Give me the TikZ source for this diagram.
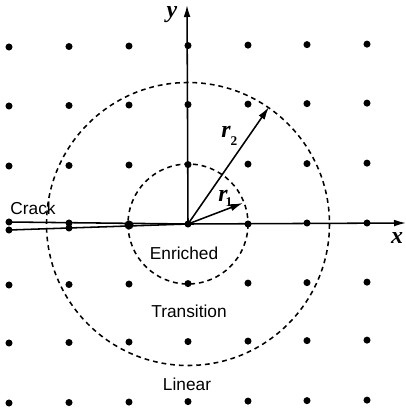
\documentclass[tikz,border=0pt]{standalone}
\usepackage{fontspec}
\setmainfont{Liberation Sans}
\newfontfamily\lettres{Liberation Serif}
\usetikzlibrary{arrows.meta}
\begin{document}
\begin{tikzpicture}[
  x=0.025cm, y=-0.025cm,
  font=\fontsize{12.3}{14}\selectfont,
  point/.style={circle, fill=black, inner sep=0pt, minimum size=5pt},
  zone/.style={black, line width=1.1pt, dash pattern=on 3.4pt off 2.8pt},
  axe/.style={-{Latex[length=3mm, width=1.7mm]}, line width=1.1pt},
  rayon/.style={-{Latex[length=3.2mm, width=1.8mm]}, line width=1.1pt},
  fissure/.style={line width=1.1pt},
  lettre/.style={inner sep=0pt, font=\lettres\fontsize{17}{17}\selectfont\bfseries\itshape},
  indice/.style={inner sep=0pt, font=\lettres\fontsize{9.5}{9.5}\selectfont\bfseries},
]
\useasboundingbox (0,0) rectangle (406,408);
% les noeuds de la grille
\foreach \col/\x in {1/9,2/69,3/129,4/188,5/248,6/307,7/367}
  \foreach \lig/\y in {1/47,2/106,3/166,5/285,6/343,7/403}
    \node[point] (p\col\lig) at (\x,{\y-(\x-9)*0.008}) {};
\node[point] (p14h) at (9,222) {};
\node[point] (p14b) at (9,230) {};
\node[point] (p24h) at (69,223) {};
\node[point] (p24b) at (69,228) {};
\node[point, minimum size=6.5pt] (p34) at (129,225) {};
\node[point] (o) at (188,224) {};
\node[point] (p54) at (248,224) {};
\node[point] (p64) at (307,223) {};
\node[point] (p74) at (367,223) {};
% les deux zones
\draw[zone] (o.center) circle (60);
\draw[zone] (o.center) circle (141.5);
% les axes
\coordinate (xfin) at (406,223);
\coordinate (yfin) at (187,5);
\draw[axe] (o.center) -- (xfin);
\draw[axe] (o.center) -- (yfin);
\node[lettre] (xlab) at (397,238) {x};
\node[lettre] (ylab) at (172,15) {y};
% la fissure
\draw[fissure] (p14h.center) -- (o.center);
\draw[fissure] (p14b.center) -- (o.center);
\node (crack) at (33,208) {Crack};
% les rayons
\coordinate (r1fin) at (243,203);
\coordinate (r2fin) at (269,107);
\draw[rayon] (o.center) -- (r1fin);
\draw[rayon] (o.center) -- (r2fin);
\node[lettre] (r1lab) at (223,196) {r};
\node[indice] (r1ind) at (229,202) {1};
\node[lettre] (r2lab) at (226,132) {r};
\node[indice] (r2ind) at (234,141) {2};
% les zones
\node (enriched) at (184,253) {Enriched};
\node (transition) at (189,311) {Transition};
\node (linear) at (187,384) {Linear};
\end{tikzpicture}
\end{document}
